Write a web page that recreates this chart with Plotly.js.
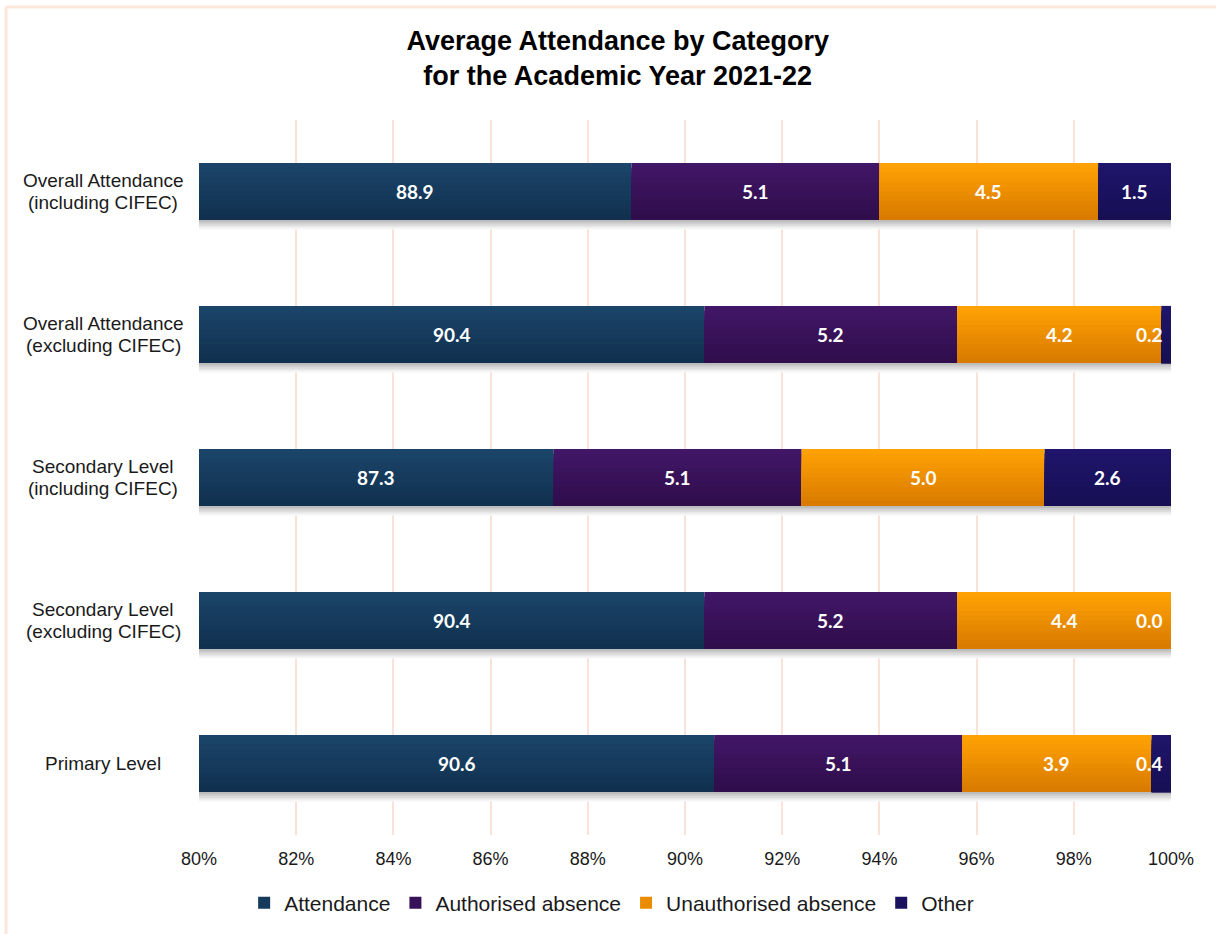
<!DOCTYPE html>
<html>
<head>
<meta charset="utf-8">
<script src="https://cdn.plot.ly/plotly-3.0.1.min.js"></script>
<style>
html,body{margin:0;padding:0;background:#fff;}
#chart{width:1216px;height:934px;}
</style>
</head>
<body>
<div id="chart"></div>
<script>
// ---- data ----
var categories = [
  "Overall Attendance<br>(including CIFEC)",
  "Overall Attendance<br>(excluding CIFEC)",
  "Secondary Level<br>(including CIFEC)",
  "Secondary Level<br>(excluding CIFEC)",
  "Primary Level"
];
var attendance = [88.9, 90.4, 87.3, 90.4, 90.6];
var authorised = [5.1, 5.2, 5.1, 5.2, 5.1];
var unauthorised = [4.5, 4.2, 5.0, 4.4, 3.9];
var other = [1.5, 0.2, 2.6, 0.0, 0.4];
var seriesNames = ["Attendance", "Authorised absence", "Unauthorised absence", "Other"];
var tickValues = [80, 82, 84, 86, 88, 90, 92, 94, 96, 98, 100];

// ---- styling ----
var topColors = ["#1a4569", "#411667", "#fea104", "#1f156a"];
var bottomColors = ["#11304f", "#2f0e4b", "#d97b00", "#160f54"];
var W = 1216, H = 934;
var M = {l: 199, r: 45, t: 120, b: 99};
var pw = W - M.l - M.r, ph = H - M.t - M.b;
var labelFont = {family: "Lato, 'Open Sans', sans-serif", size: 19, color: "#ffffff", weight: 700};
var catFont = {family: "Arial, 'Liberation Sans', sans-serif", size: 19, color: "#1a1a1a"};
var BAR_W = 0.4, BANDS = 12;

function hex2rgb(h){ return [parseInt(h.substr(1,2),16), parseInt(h.substr(3,2),16), parseInt(h.substr(5,2),16)]; }
function mix(a, b, t){
  var A = hex2rgb(a), B = hex2rgb(b);
  return "rgb(" + [0,1,2].map(function(i){ return Math.round(A[i] + (B[i]-A[i])*t); }).join(",") + ")";
}

var series = [attendance, authorised, unauthorised, other];
// cumulative bases
var bases = series.map(function(s, si){
  return s.map(function(v, i){
    var b = 0; for (var k = 0; k < si; k++) b += series[k][i]; return b;
  });
});
var totals = attendance.map(function(v, i){ return bases[3][i] + other[i]; });

var traces = [];
// soft shadow below each bar
var SH = 5;
for (var j = 0; j < SH; j++) {
  traces.push({
    type: "bar", orientation: "h", y: categories,
    x: totals.map(function(t){ return t - 80 + 0.06; }), base: 80,
    width: 0.075 - j * 0.013, offset: BAR_W / 2 - 0.01,
    marker: {color: mix("#f6f6f6", "#bdbdbd", j / (SH - 1)), line: {width: 0}},
    showlegend: false, hoverinfo: "skip"
  });
}
// gradient bars made of layered bands
series.forEach(function(vals, si){
  for (var k = 0; k < BANDS; k++) {
    var step = BAR_W / BANDS;
    traces.push({
      type: "bar", orientation: "h",
      name: seriesNames[si], legendgroup: seriesNames[si],
      showlegend: k === Math.floor(BANDS / 2),
      y: categories, x: vals, base: bases[si],
      offset: -BAR_W / 2 + k * step, width: BAR_W - k * step,
      marker: {color: mix(topColors[si], bottomColors[si], k / (BANDS - 1)), line: {width: 0}},
      hoverinfo: "skip"
    });
  }
});

var annotations = [];
categories.forEach(function(c, i){
  series.forEach(function(vals, si){
    var start = si === 0 ? 80 : bases[si][i];
    var centre = start + (vals[i] + bases[si][i] - start) / 2;
    annotations.push({
      xref: "x", yref: "y", x: Math.min(centre, 99.55), y: c,
      text: vals[i].toFixed(1), showarrow: false,
      font: labelFont, xanchor: "center", yanchor: "middle"
    });
  });
  // category label, centred lines with tight spacing
  var lines = c.split("<br>");
  lines.forEach(function(line, k){
    var off = (k - (lines.length - 1) / 2) * 21.5;
    annotations.push({
      xref: "paper", yref: "y", x: (103 - M.l) / pw, y: c, yshift: -off,
      text: line, showarrow: false, align: "center",
      font: catFont, xanchor: "center", yanchor: "middle"
    });
  });
});

var borderColor = "#fde6dc";
var px = function(x){ return (x - M.l) / pw; };
var py = function(y){ return (M.t + ph - y) / ph; };

var layout = {
  width: W, height: H,
  margin: M,
  paper_bgcolor: "#ffffff",
  plot_bgcolor: "#ffffff",
  barmode: "overlay",
  font: {family: "Arial, 'Liberation Sans', sans-serif", color: "#1a1a1a"},
  title: {
    text: "<b>Average Attendance by Category<br>for the Academic Year 2021-22</b>",
    font: {family: "Arial, 'Liberation Sans', sans-serif", size: 27, color: "#000000"},
    x: 0.508, xref: "container", xanchor: "center",
    y: 1 - 50 / H, yref: "container", yanchor: "top"
  },
  xaxis: {
    range: [80, 100],
    tickvals: tickValues,
    ticktext: tickValues.map(function(v){return v + "%";}),
    showgrid: true, gridcolor: "#fbe2d8", gridwidth: 2,
    zeroline: false, showline: false, ticks: "",
    ticklabelstandoff: 11,
    tickfont: {size: 18, color: "#1a1a1a"},
    fixedrange: true
  },
  yaxis: {
    type: "category",
    categoryorder: "array", categoryarray: categories,
    autorange: "reversed",
    showticklabels: false, showgrid: false, zeroline: false, showline: false, ticks: "",
    fixedrange: true
  },
  legend: {
    orientation: "h", traceorder: "normal",
    xref: "container", x: 0.503, xanchor: "center",
    yref: "container", y: 1 - 903 / H, yanchor: "middle",
    font: {size: 21, color: "#1a1a1a"},
    itemwidth: 30
  },
  showlegend: true,
  annotations: annotations,
  shapes: [
    {type: "line", xref: "paper", yref: "paper", x0: px(6), x1: px(W + 5), y0: py(7), y1: py(7),
     line: {color: borderColor, width: 3}, layer: "above"},
    {type: "line", xref: "paper", yref: "paper", x0: px(6), x1: px(6), y0: py(7), y1: py(H + 5),
     line: {color: borderColor, width: 3}, layer: "above"}
  ]
};

Plotly.newPlot("chart", traces, layout, {displayModeBar: false, staticPlot: true});
</script>
</body>
</html>
